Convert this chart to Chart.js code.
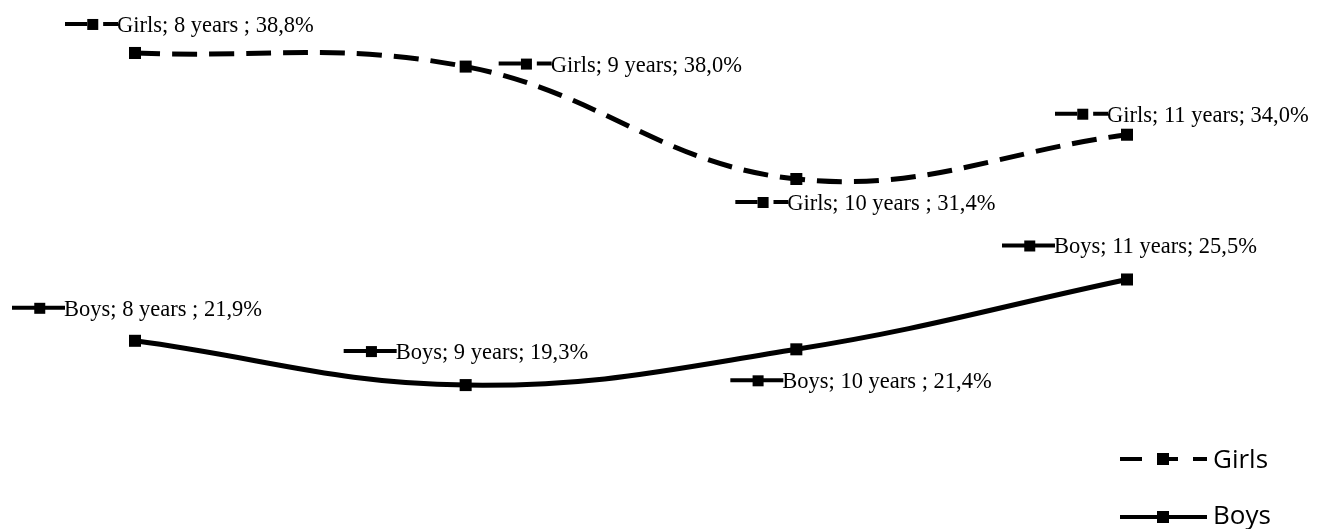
<!DOCTYPE html>
<html>
<head>
<meta charset="utf-8">
<script src="https://cdn.jsdelivr.net/npm/chart.js@4"></script>
<style>
  html, body { margin: 0; padding: 0; background: #ffffff; }
  #wrap { width: 1317px; height: 529px; position: relative; }
</style>
</head>
<body>
<div id="wrap"><canvas id="myChart"></canvas></div>
<script>
const ages = ["8 years", "9 years", "10 years", "11 years"];
const girlsValues = [38.8, 38.0, 31.4, 34.0];
const boysValues = [21.9, 19.3, 21.4, 25.5];
const girlsLabels = ["Girls; 8 years ; 38,8%", "Girls; 9 years; 38,0%", "Girls; 10 years ; 31,4%", "Girls; 11 years; 34,0%"];
const boysLabels = ["Boys; 8 years ; 21,9%", "Boys; 9 years; 19,3%", "Boys; 10 years ; 21,4%", "Boys; 11 years; 25,5%"];

// where each label sits, relative to its point (left of key, middle of key)
const girlsLabelOffsets = [[-70, -29], [33, -3], [-61, 23], [-72, -21]];
const boysLabelOffsets = [[-123, -33], [-122, -34], [-66, 31], [-125, -34]];

document.addEventListener('DOMContentLoaded', function() {

    function drawKey(c, x, y, w, dashed) {
        c.save();
        c.strokeStyle = "#000";
        c.fillStyle = "#000";
        c.lineWidth = 4;
        c.beginPath();
        if (dashed) {
            c.moveTo(x, y); c.lineTo(x + w * 0.42, y);
            c.moveTo(x + w * 0.72, y); c.lineTo(x + w, y);
        } else {
            c.moveTo(x, y); c.lineTo(x + w, y);
        }
        c.stroke();
        c.fillRect(x + w * 0.42, y - 5, 11, 11);
        c.restore();
    }

    function drawLegendKey(c, x, y, dashed) {
        c.save();
        c.strokeStyle = "#000";
        c.fillStyle = "#000";
        c.lineWidth = 4;
        c.beginPath();
        if (dashed) {
            c.moveTo(x, y); c.lineTo(x + 22, y);
            c.moveTo(x + 40, y); c.lineTo(x + 58, y);
            c.moveTo(x + 73, y); c.lineTo(x + 87, y);
        } else {
            c.moveTo(x, y); c.lineTo(x + 87, y);
        }
        c.stroke();
        c.fillRect(x + 37, y - 6, 12, 12);
        c.restore();
    }

    const pointLabels = {
        id: "pointLabels",
        afterDatasetsDraw(chart) {
            const c = chart.ctx;
            const sets = [
                { texts: girlsLabels, offs: girlsLabelOffsets, dashed: true },
                { texts: boysLabels, offs: boysLabelOffsets, dashed: false },
            ];
            sets.forEach((s, di) => {
                const meta = chart.getDatasetMeta(di);
                meta.data.forEach((pt, i) => {
                    const x = pt.x + s.offs[i][0];
                    const y = pt.y + s.offs[i][1];
                    drawKey(c, x, y, 53, s.dashed);
                    c.save();
                    c.fillStyle = "#000";
                    c.font = "22.5px 'Liberation Serif', 'Times New Roman', serif";
                    c.textBaseline = "alphabetic";
                    c.fillText(s.texts[i], x + 52, y + 8);
                    c.restore();
                });
            });

            // legend, bottom right
            c.save();
            c.fillStyle = "#000";
            c.font = "26px 'Open Sans', 'Noto Sans', sans-serif";
            c.textBaseline = "alphabetic";
            drawLegendKey(c, 1120, 459, true);
            c.fillText("Girls", 1213, 468);
            drawLegendKey(c, 1120, 517, false);
            c.fillText("Boys", 1213, 524);
            c.restore();
        }
    };

    const ctx = document.getElementById("myChart").getContext("2d");

    const lineChart = new Chart(ctx, {
        type: "line",
        data: {
            labels: ages,
            datasets: [
            {
                label: "Girls",
                data: girlsValues,
                borderColor: "#000000",
                backgroundColor: "#000000",
                borderWidth: 5,
                borderDash: [25, 12],
                tension: 0.4,
                pointStyle: "rect",
                pointRadius: 8.5,
                pointBackgroundColor: "#000000",
                pointBorderColor: "#000000",
                pointBorderWidth: 0,
                clip: false,
            },
            {
                label: "Boys",
                data: boysValues,
                borderColor: "#000000",
                backgroundColor: "#000000",
                borderWidth: 5,
                tension: 0.4,
                pointStyle: "rect",
                pointRadius: 8.5,
                pointBackgroundColor: "#000000",
                pointBorderColor: "#000000",
                pointBorderWidth: 0,
                clip: false,
            }],
        },
        options: {
            responsive: true,
            maintainAspectRatio: false,
            animation: false,
            layout: {
                autoPadding: false,
                padding: { left: 135, right: 190, top: 0, bottom: 0 },
            },
            plugins: {
                legend: { display: false },
                tooltip: { enabled: false },
            },
            scales: {
                x: { display: false, offset: false },
                y: { display: false, min: 10.85, max: 41.91 },
            },
        },
        plugins: [pointLabels],
    });
});
</script>
</body>
</html>
